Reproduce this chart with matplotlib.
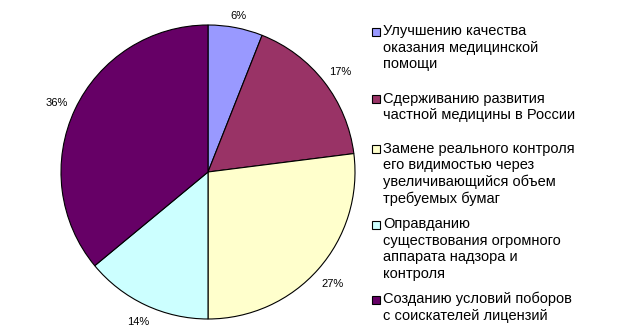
import matplotlib
matplotlib.use("Agg")
import matplotlib.pyplot as plt
from matplotlib.patches import Rectangle
import numpy as np

labels = [
    "Улучшению качества\nоказания медицинской\nпомощи",
    "Сдерживанию развития\nчастной медицины в России",
    "Замене реального контроля\nего видимостью через\nувеличивающийся объем\nтребуемых бумаг",
    "Оправданию\nсуществования огромного\nаппарата надзора и\nконтроля",
    "Созданию условий поборов\nс соискателей лицензий",
]
values = [6, 17, 27, 14, 36]
colors = ["#9999FF", "#993366", "#FFFFCC", "#CCFFFF", "#660066"]

plt.rcParams['font.family'] = ['Liberation Sans', 'DejaVu Sans']

W, H = 620, 334
fig = plt.figure(figsize=(W / 100, H / 100), dpi=100)
fig.patch.set_facecolor("white")

cx, cy, R = 208, 172, 147
ax = fig.add_axes([(cx - R) / W, (H - cy - R) / H, 2 * R / W, 2 * R / H])
wedges, texts, autotexts = ax.pie(
    values, colors=colors, startangle=90, counterclock=False,
    autopct=lambda p: f"{p:.0f}%", pctdistance=1.12,
    wedgeprops=dict(edgecolor="black", linewidth=0.8),
    textprops=dict(fontsize=8, color="black"),
)
ax.set_xlim(-1, 1)
ax.set_ylim(-1, 1)
ax.set_aspect("equal")

# place percentage labels a fixed gap outside the rim (bbox edge based)
fig.canvas.draw()
renderer = fig.canvas.get_renderer()
gap = 8.5
for w, t in zip(wedges, autotexts):
    ang = np.deg2rad((w.theta1 + w.theta2) / 2)
    bb = t.get_window_extent(renderer)
    hw, hh = bb.width / 2, 4.0
    proj = hw * abs(np.cos(ang)) + hh * abs(np.sin(ang))
    r = (R + gap + proj) / R
    t.set_position((r * np.cos(ang), r * np.sin(ang) - 2.0 / R))

# legend
baselines = [35, 102.7, 152.7, 228, 303]
lsp = 16.7
tx = 383
for lab, col, yb in zip(labels, colors, baselines):
    for i, line in enumerate(lab.split("\n")):
        fig.text(tx / W, 1 - (yb + i * lsp) / H, line, fontsize=10.5,
                 va="baseline", ha="left", color="black")
    fig.patches.append(Rectangle((372 / W, 1 - (yb + 0.5) / H), 8 / W, 8 / H,
                                 transform=fig.transFigure, facecolor=col,
                                 edgecolor="black", linewidth=0.8))

fig.savefig("out.png", dpi=100)
